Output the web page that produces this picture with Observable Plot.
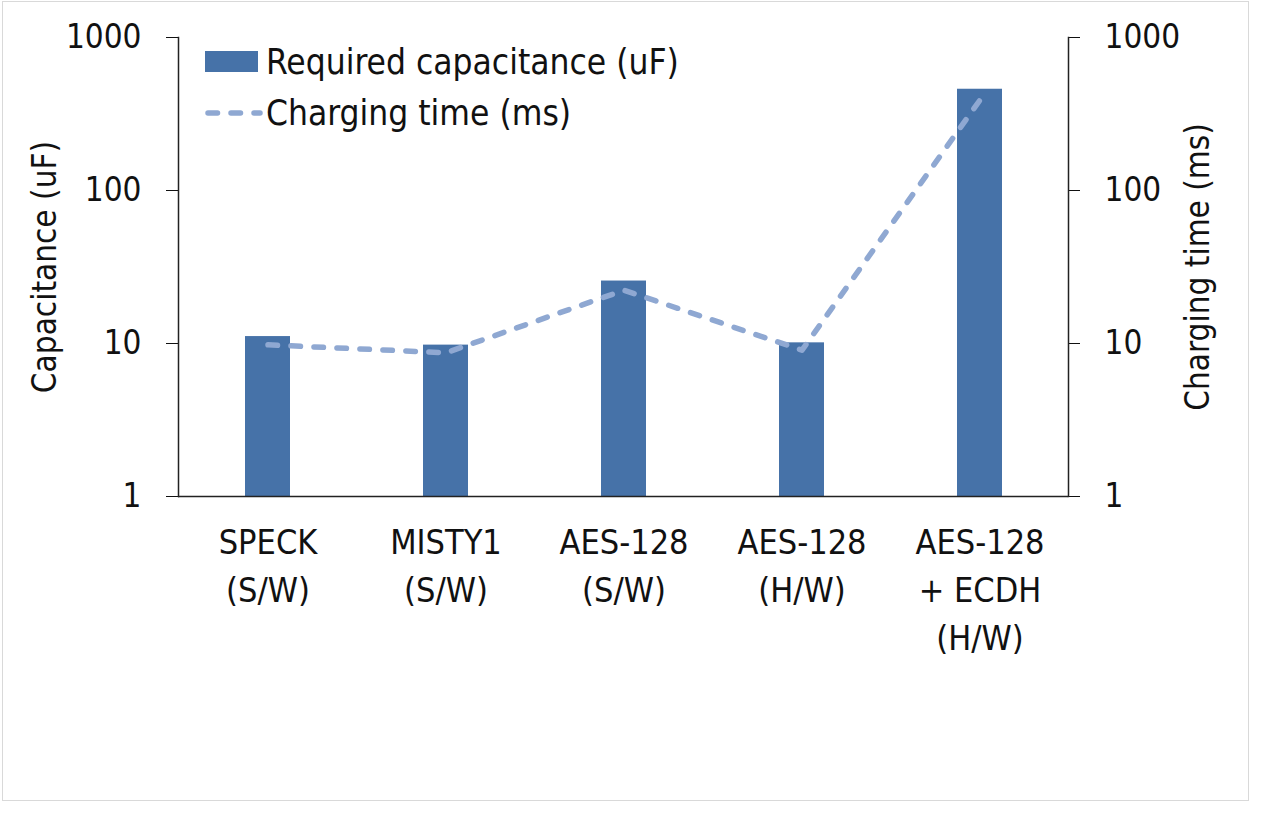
<!DOCTYPE html>
<html>
<head>
<meta charset="utf-8">
<script src="https://cdn.jsdelivr.net/npm/d3@7"></script>
<script src="https://cdn.jsdelivr.net/npm/@observablehq/plot@0.6"></script>
<style>
  html, body { margin: 0; padding: 0; background: #fff; }
  #wrap { position: relative; width: 1275px; height: 825px; }
  #frame { position: absolute; left: 2px; top: 1px; width: 1247px; height: 800px; border: 1.5px solid #d9d9d9; box-sizing: border-box; pointer-events: none; }
  #legend { position: absolute; left: 205px; top: 36px; font-family: "DejaVu Sans Condensed", sans-serif; font-size: 35px; color: #111; }
  .row { display: flex; align-items: center; height: 51px; }
  .row svg { margin-right: 7px; }
</style>
</head>
<body>
<div id="wrap">
  <div id="chart"></div>
  <div id="legend"></div>
  <div id="frame"></div>
</div>
<script>
const categories = ["SPECK\n(S/W)", "MISTY1\n(S/W)", "AES-128\n(S/W)", "AES-128\n(H/W)", "AES-128\n+ ECDH\n(H/W)"];
const capacitance = [11.1, 9.76, 25.6, 10.1, 459];
const chargingTime = [9.8, 8.7, 22.3, 9.05, 390];
const yTicks = [1, 10, 100, 1000];
const seriesNames = ["Required capacitance (uF)", "Charging time (ms)"];

const barColor = "#4672a8";
const lineColor = "#8fa8d2";
const font = "DejaVu Sans Condensed, sans-serif";

const bars = categories.map((c, i) => ({cat: c, v: capacitance[i]}));
const pts = categories.map((c, i) => ({cat: c, v: chargingTime[i]}));

const chart = Plot.plot({
  width: 1275,
  height: 825,
  marginLeft: 178,
  marginRight: 207,
  marginTop: 37,
  marginBottom: 329,
  style: {fontFamily: font, fontSize: "34px", color: "#111", background: "transparent"},
  x: {domain: categories, paddingInner: 0.75, paddingOuter: 0.375, align: 0.5},
  y: {type: "log", domain: [1, 1000]},
  marks: [
    Plot.barY(bars, {x: "cat", y1: 1, y2: "v", fill: barColor}),
    Plot.line(pts, {x: "cat", y: "v", stroke: lineColor, strokeWidth: 5.5, strokeDasharray: "9.5,13.5", strokeLinecap: "round", strokeLinejoin: "round"}),
    Plot.axisY({ticks: yTicks, tickFormat: d => String(d), tickSize: 12, tickPadding: 25, anchor: "left", label: "Capacitance (uF)", labelAnchor: "center", labelArrow: "none", labelOffset: 146, fontSize: 33}),
    Plot.axisY({ticks: yTicks, tickFormat: d => String(d), tickSize: 11, tickPadding: 25, anchor: "right", label: "Charging time (ms)", labelAnchor: "center", labelArrow: "none", labelOffset: 140, fontSize: 33}),
    Plot.axisX({tickSize: 0, tickPadding: 23, lineHeight: 1.42, fontSize: 34, label: null}),
    Plot.ruleY([1], {stroke: "#222", strokeWidth: 1.5}),
    Plot.frame({anchor: "left", stroke: "#222", strokeWidth: 1.5}),
    Plot.frame({anchor: "right", stroke: "#222", strokeWidth: 1.5})
  ]
});
document.getElementById("chart").appendChild(chart);

// legend
const leg = document.getElementById("legend");
const r1 = document.createElement("div"); r1.className = "row";
r1.innerHTML = `<svg width="54" height="22"><rect x="0" y="0" width="53" height="21" fill="${barColor}"/></svg><span>${seriesNames[0]}</span>`;
const r2 = document.createElement("div"); r2.className = "row";
r2.innerHTML = `<svg width="58" height="10"><line x1="3" y1="5" x2="55" y2="5" stroke="${lineColor}" stroke-width="5.5" stroke-dasharray="9.5,13.5" stroke-linecap="round"/></svg><span>${seriesNames[1]}</span>`;
r2.querySelector("svg").style.marginRight = "3px";
leg.appendChild(r1); leg.appendChild(r2);
</script>
</body>
</html>
